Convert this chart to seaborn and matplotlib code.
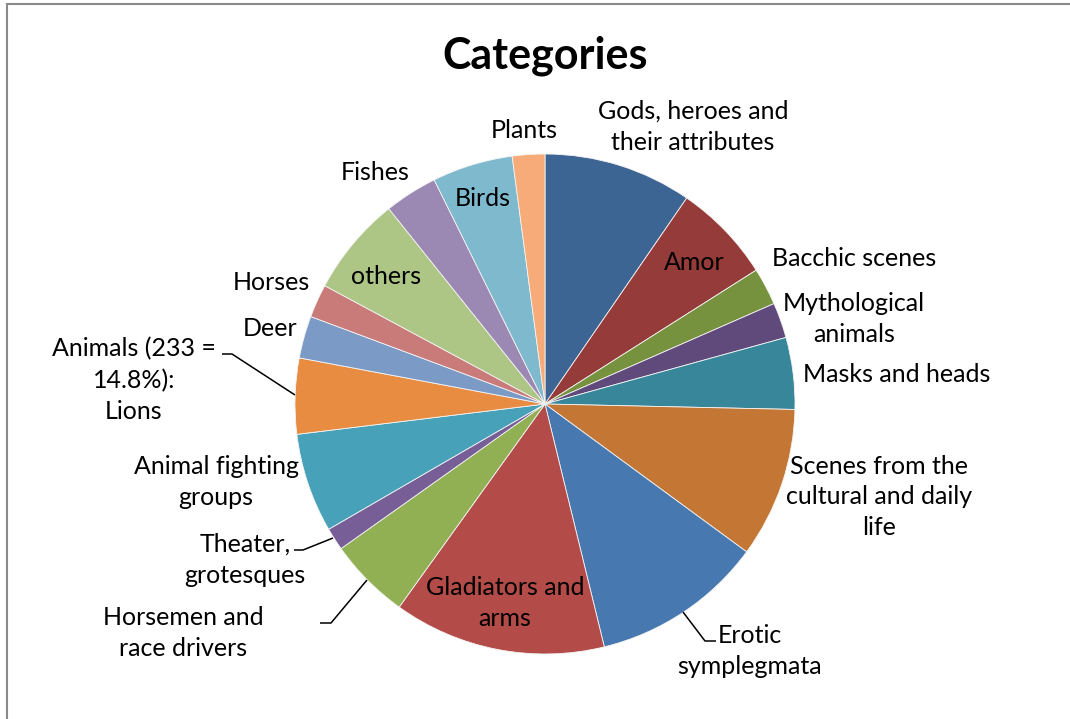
import matplotlib
matplotlib.use("Agg")
import matplotlib.pyplot as plt
from matplotlib.patches import Rectangle
import seaborn as sns

# Category counts (total 1574), listed clockwise from 12 o'clock
categories = [
    "Gods, heroes and\ntheir attributes", "Amor", "Bacchic scenes",
    "Mythological\nanimals", "Masks and heads",
    "Scenes from the\ncultural and daily\nlife", "Erotic\nsymplegmata",
    "Gladiators and\narms", "Horsemen and\nrace drivers",
    "Theater,\ngrotesques", "Animal fighting\ngroups",
    "Animals (233 =\n14.8%):\nLions", "Deer", "Horses", "others",
    "Fishes", "Birds", "Plants",
]
counts = [151, 101, 38, 36, 73, 153, 175, 216, 83, 23, 101,
          77, 43, 34, 101, 54, 82, 33]

colors = ["#3D6594", "#953B3A", "#77923F", "#604A7B", "#37869A",
          "#C47634", "#4878B0", "#B34B48", "#91AF53", "#775E96",
          "#47A1B9", "#E78C40", "#7C9AC6", "#C97B7A", "#ADC585",
          "#9B89B3", "#7EB9CE", "#F6AB78"]

# Label anchor points in pixel space (x from left, y from top) and leader lines
label_pos = [(693, 127), (694, 263), (854, 259), (854, 319), (897, 375),
             (879, 497), (750, 651), (505, 603), (183, 633), (245, 560),
             (216, 482), (134, 380), (270, 329), (271, 283), (386, 277),
             (375, 173), (483, 199), (524, 131)]
leaders = {
    6: [(683, 612), (705, 641), (716, 641)],
    8: [(367, 580), (331, 623), (320, 623)],
    9: [(333, 538), (303, 550), (294, 550)],
    11: [(295, 395), (232, 354), (222, 354)],
}

W, H = 1070, 719
sns.set_theme(style="white")
plt.rcParams["font.family"] = ["Lato", "DejaVu Sans"]

fig = plt.figure(figsize=(W / 100, H / 100), dpi=100)
fig.patch.set_facecolor("white")
ax = fig.add_axes([0, 0, 1, 1])

def py(y):
    return H - y

ax.pie(counts, colors=colors, startangle=90, counterclock=False,
       center=(545, py(404)), radius=250,
       wedgeprops=dict(linewidth=0.6, edgecolor="#f4f4f4"))
ax.set_xlim(0, W)
ax.set_ylim(0, H)
ax.set_aspect("equal")
ax.axis("off")

for i, (txt, (x, y)) in enumerate(zip(categories, label_pos)):
    ax.text(x, py(y), txt, ha="center", va="center", fontsize=18,
            color="black", linespacing=1.42)

for pts in leaders.values():
    xs = [p[0] for p in pts]
    ys = [py(p[1]) for p in pts]
    ax.plot(xs, ys, color="black", lw=1.1, solid_capstyle="butt")

ax.text(545, py(56), "Categories", ha="center", va="center",
        fontsize=31, fontweight="bold", color="black")

# Chart-area frame (only its left and top edges fall inside the image)
fig.patches.append(Rectangle((6.5 / W, -0.1), 1.2, 1.1 - 3.5 / H,
                             transform=fig.transFigure, fill=False,
                             edgecolor="#8a8a8a", linewidth=1.5))

fig.savefig("out.png", dpi=100, facecolor="white")
